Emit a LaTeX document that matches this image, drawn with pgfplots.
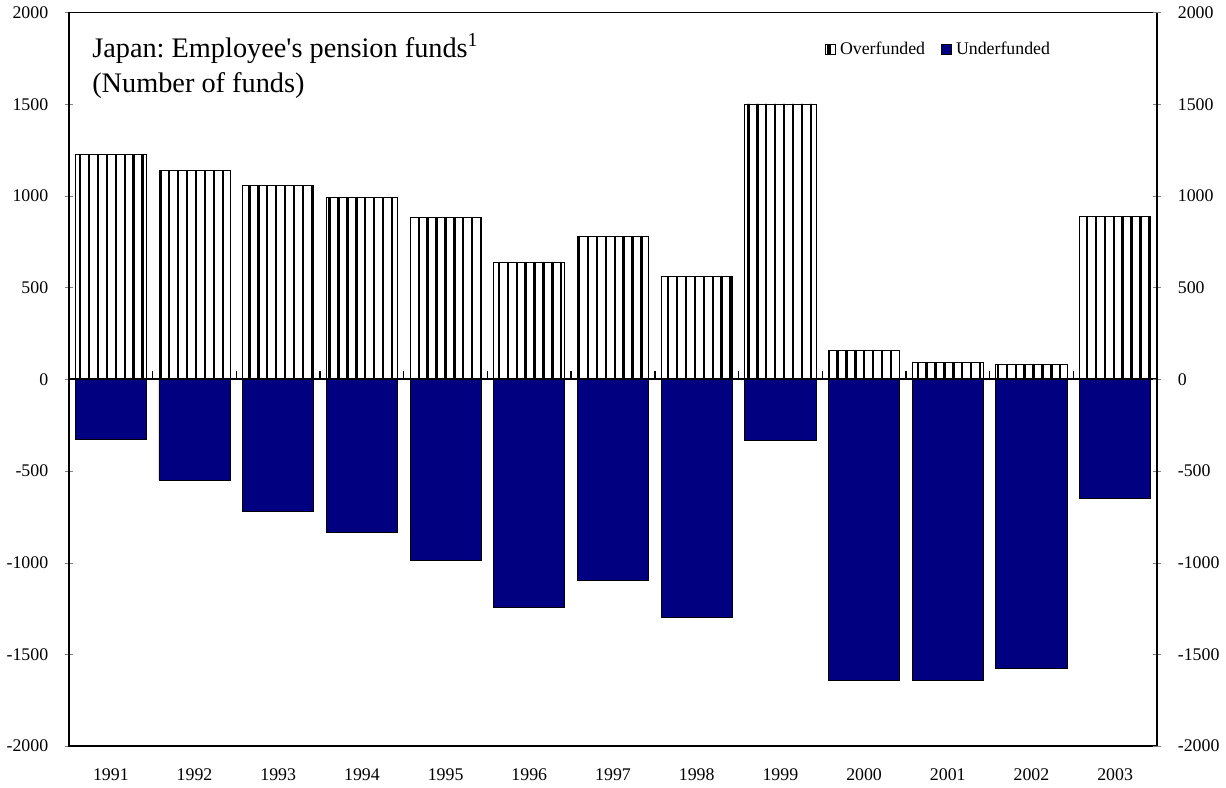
\documentclass[border=0pt]{standalone}
\usepackage{pgfplots}
\pgfplotsset{compat=1.18}
\usepackage{fontspec}
\setmainfont{Liberation Serif}
\usetikzlibrary{patterns.meta}
\definecolor{navy}{RGB}{0,0,128}
\begin{document}
\begin{tikzpicture}
\pgfplotsset{
  common/.style={
    scale only axis,
    width=549.5pt, height=370.5pt,
    xmin=-0.5, xmax=12.5,
    ymin=-2000, ymax=2000,
    ytick={-2000,-1500,...,2000},
    tick align=center,
    major tick length=4pt,
    /pgf/number format/assume math mode=true,
    /pgf/number format/1000 sep={},
    tick label style={font=\fontsize{9}{10}\selectfont},
    yticklabel style={/pgf/number format/fixed},
  }
}
\begin{axis}[common,
  xtick={0,...,12},
  xticklabels={1991,1992,1993,1994,1995,1996,1997,1998,1999,2000,2001,2002,2003},
  x tick style={draw=none},
  xticklabel style={yshift=-6pt},
  ytick pos=left,
  yticklabel style={xshift=-5pt},
  axis line style={line width=0.9pt},
  legend style={at={(rel axis cs:0.8,0.95)}, anchor=center, draw=none, fill=none,
    legend columns=2, font=\fontsize{9}{10}\selectfont,
    /tikz/every even column/.append style={column sep=6pt}},
  legend cell align=left,
  legend image code/.code={\draw[#1] (0pt,-2.6pt) rectangle (5.2pt,2.6pt);},
]
\addplot[ybar, bar width=0.85, bar shift=0pt, draw=black, line width=0.4pt,
  fill=white, postaction={pattern={Lines[angle=90,distance=4.5pt,line width=1.2pt]}},
  legend image code/.code={\draw[black, fill=white, line width=0.5pt] (0pt,-2.6pt) rectangle (5.2pt,2.6pt);
    \draw[black, line width=0.9pt] (2.6pt,-2.6pt) -- (2.6pt,2.6pt);}]
 coordinates {(0,1225) (1,1140) (2,1058) (3,990) (4,883) (5,640) (6,780) (7,560) (8,1502) (9,158) (10,93) (11,83) (12,888)};
\addlegendentry{Overfunded}
\addplot[ybar, bar width=0.85, bar shift=0pt, draw=black, line width=0.4pt, fill=navy]
 coordinates {(0,-328) (1,-550) (2,-722) (3,-836) (4,-988) (5,-1242) (6,-1095) (7,-1300) (8,-333) (9,-1642) (10,-1642) (11,-1577) (12,-648)};
\addlegendentry{Underfunded}
\addplot[black, line width=0.9pt, forget plot] coordinates {(-0.5,0) (12.5,0)};
\pgfplotsinvokeforeach{0.5,1.5,2.5,3.5,4.5,5.5,6.5,7.5,8.5,9.5,10.5,11.5}{
  \draw[line width=0.7pt] (axis cs:#1,0) -- (axis cs:#1,45);
}
\node[anchor=west, align=left, font=\fontsize{14.3}{18.5}\selectfont, inner sep=0pt]
  at (rel axis cs:0.021,0.951) {Japan:\ Employee\textquotesingle s pension funds\textsuperscript{1}};
\node[anchor=west, align=left, font=\fontsize{14.3}{18.5}\selectfont, inner sep=0pt]
  at (rel axis cs:0.021,0.900) {(Number of funds)};
\end{axis}
\begin{axis}[common,
  axis y line*=right,
  axis x line=none,
  yticklabel style={xshift=5pt},
  axis line style={line width=0.9pt},
]
\end{axis}
\end{tikzpicture}
\end{document}
